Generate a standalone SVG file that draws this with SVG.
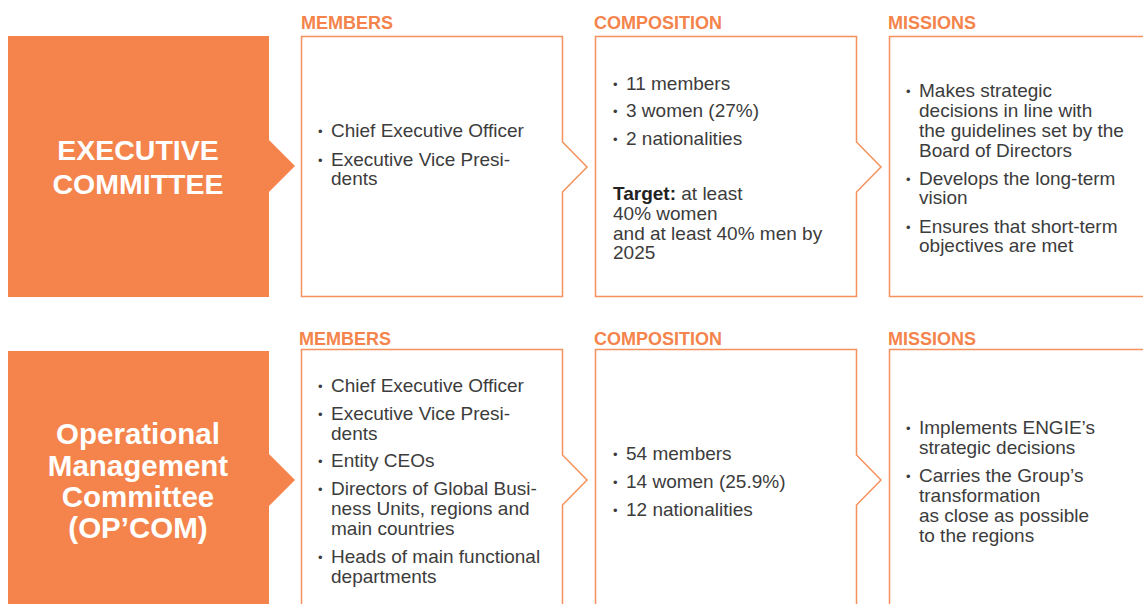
<svg xmlns="http://www.w3.org/2000/svg" width="1143" height="604" viewBox="0 0 1143 604">
<style>
.hdr{font-family:"Liberation Sans",Arial,sans-serif;font-weight:bold;font-size:18px;fill:#F4844C}
.ttl{font-family:"Liberation Sans",Arial,sans-serif;font-weight:bold;fill:#ffffff;text-anchor:middle}
.body{font-family:"Liberation Sans",Arial,sans-serif;font-size:19px;fill:#3c3c3c}
.bul{font-size:13px}
.box{fill:#ffffff;stroke:#F4915C;stroke-width:1.5}
.orange{fill:#F4844C}
</style>
<rect width="1143" height="604" fill="#ffffff"/>

<!-- Row 1 -->
<g id="exec-title">
<path class="orange" d="M8,36 H269 V140 L295,166 L269,192 V297 H8 Z"/>
<text class="ttl" font-size="28.5" x="138" y="160">EXECUTIVE</text>
<text class="ttl" font-size="28.5" x="138" y="194">COMMITTEE</text>
</g>

<g id="exec-members">
<text class="hdr" x="301" y="29">MEMBERS</text>
<path class="box" d="M301.5,36.5 H562.5 V142 L587,167 L562.5,192 V296.5 H301.5 Z"/>
<text class="body"><tspan class="bul" x="318" y="136">•</tspan><tspan x="331" y="137">Chief Executive Officer</tspan></text>
<text class="body"><tspan class="bul" x="318" y="165">•</tspan><tspan x="331" y="166">Executive Vice Presi-</tspan><tspan x="331" y="185">dents</tspan></text>
</g>

<g id="exec-composition">
<text class="hdr" x="594" y="29">COMPOSITION</text>
<path class="box" d="M595.5,36.5 H856.5 V142 L881,167 L856.5,192 V296.5 H595.5 Z"/>
<text class="body"><tspan class="bul" x="613" y="89">•</tspan><tspan x="626" y="90">11 members</tspan></text>
<text class="body"><tspan class="bul" x="613" y="116">•</tspan><tspan x="626" y="117">3 women (27%)</tspan></text>
<text class="body"><tspan class="bul" x="613" y="144">•</tspan><tspan x="626" y="145">2 nationalities</tspan></text>
<text class="body"><tspan x="613" y="200" font-weight="bold" fill="#222">Target:</tspan><tspan> at least</tspan><tspan x="613" y="220">40% women</tspan><tspan x="613" y="240">and at least 40% men by</tspan><tspan x="613" y="259">2025</tspan></text>
</g>

<g id="exec-missions">
<text class="hdr" x="888" y="29">MISSIONS</text>
<rect class="box" x="889.5" y="36.5" width="260" height="260"/>
<text class="body"><tspan class="bul" x="906" y="96">•</tspan><tspan x="919" y="97">Makes strategic</tspan><tspan x="919" y="117">decisions in line with</tspan><tspan x="919" y="137">the guidelines set by the</tspan><tspan x="919" y="157">Board of Directors</tspan></text>
<text class="body"><tspan class="bul" x="906" y="184">•</tspan><tspan x="919" y="185">Develops the long-term</tspan><tspan x="919" y="204">vision</tspan></text>
<text class="body"><tspan class="bul" x="906" y="232">•</tspan><tspan x="919" y="233">Ensures that short-term</tspan><tspan x="919" y="252">objectives are met</tspan></text>
</g>

<!-- Row 2 -->
<g id="opcom-title">
<path class="orange" d="M8,351 H269 V454 L295,480 L269,506 V610 H8 Z"/>
<text class="ttl" font-size="29.5" x="138" y="444">Operational</text>
<text class="ttl" font-size="29.5" x="138" y="476">Management</text>
<text class="ttl" font-size="29.5" x="138" y="507">Committee</text>
<text class="ttl" font-size="29.5" x="138" y="538">(OP’COM)</text>
</g>

<g id="opcom-members">
<text class="hdr" x="299" y="345">MEMBERS</text>
<path class="box" d="M301.5,349.5 H562.5 V455 L587,480 L562.5,505 V610 H301.5 Z"/>
<text class="body"><tspan class="bul" x="318" y="391">•</tspan><tspan x="331" y="392">Chief Executive Officer</tspan></text>
<text class="body"><tspan class="bul" x="318" y="419">•</tspan><tspan x="331" y="420">Executive Vice Presi-</tspan><tspan x="331" y="440">dents</tspan></text>
<text class="body"><tspan class="bul" x="318" y="466">•</tspan><tspan x="331" y="467">Entity CEOs</tspan></text>
<text class="body"><tspan class="bul" x="318" y="494">•</tspan><tspan x="331" y="495">Directors of Global Busi-</tspan><tspan x="331" y="515">ness Units, regions and</tspan><tspan x="331" y="535">main countries</tspan></text>
<text class="body"><tspan class="bul" x="318" y="562">•</tspan><tspan x="331" y="563">Heads of main functional</tspan><tspan x="331" y="583">departments</tspan></text>
</g>

<g id="opcom-composition">
<text class="hdr" x="594" y="345">COMPOSITION</text>
<path class="box" d="M595.5,349.5 H856.5 V455 L881,480 L856.5,505 V610 H595.5 Z"/>
<text class="body"><tspan class="bul" x="613" y="459">•</tspan><tspan x="626" y="460">54 members</tspan></text>
<text class="body"><tspan class="bul" x="613" y="487">•</tspan><tspan x="626" y="488">14 women (25.9%)</tspan></text>
<text class="body"><tspan class="bul" x="613" y="515">•</tspan><tspan x="626" y="516">12 nationalities</tspan></text>
</g>

<g id="opcom-missions">
<text class="hdr" x="888" y="345">MISSIONS</text>
<rect class="box" x="889.5" y="349.5" width="260" height="270"/>
<text class="body"><tspan class="bul" x="906" y="433">•</tspan><tspan x="919" y="434">Implements ENGIE’s</tspan><tspan x="919" y="454">strategic decisions</tspan></text>
<text class="body"><tspan class="bul" x="906" y="481">•</tspan><tspan x="919" y="482">Carries the Group’s</tspan><tspan x="919" y="502">transformation</tspan><tspan x="919" y="522">as close as possible</tspan><tspan x="919" y="542">to the regions</tspan></text>
</g>

<g id="connectors"/>
</svg>
